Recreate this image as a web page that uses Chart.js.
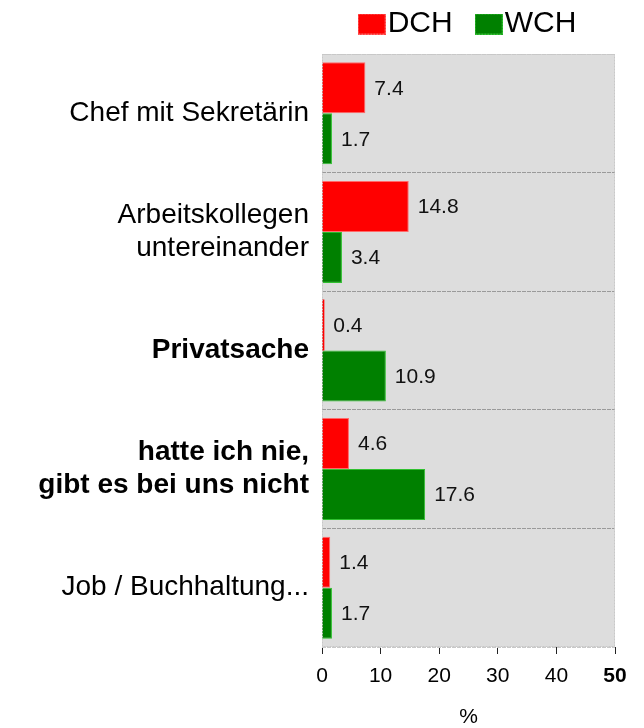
<!DOCTYPE html>
<html>
<head>
<meta charset="utf-8">
<script src="https://cdn.jsdelivr.net/npm/chart.js@4/dist/chart.umd.min.js"></script>
<style>
  html, body { margin: 0; padding: 0; background: #ffffff; }
  #wrap { width: 644px; height: 728px; }
</style>
</head>
<body>
<div id="wrap"><canvas id="c" width="644" height="728"></canvas></div>
<script>
const categories = [
  "Chef mit Sekretärin",
  ["Arbeitskollegen", "untereinander"],
  "Privatsache",
  ["hatte ich nie,", "gibt es bei uns nicht"],
  "Job / Buchhaltung..."
];
const boldCategories = [false, false, true, true, false];
const seriesNames = ["DCH", "WCH"];
const dchValues = [7.4, 14.8, 0.4, 4.6, 1.4];
const wchValues = [1.7, 3.4, 10.9, 17.6, 1.7];
const xTicks = [0, 10, 20, 30, 40, 50];
const xTitle = "%";

const FONT = "'Liberation Sans', Arial, sans-serif";
const fillColors = ['#ff0000', '#008000'];
const edgeColors = ['#ff8080', '#40d040'];

function makeSwatch(fill, edge) {
  const c = document.createElement('canvas');
  c.width = 28; c.height = 21;
  const g = c.getContext('2d');
  g.fillStyle = fill;
  g.fillRect(0, 0, 28, 21);
  g.strokeStyle = edge;
  g.lineWidth = 1;
  g.setLineDash([2, 1]);
  g.strokeRect(0.5, 0.5, 27, 20);
  return c;
}
const swatches = [makeSwatch(fillColors[0], edgeColors[0]), makeSwatch(fillColors[1], edgeColors[1])];

const plotBg = {
  id: 'plotBg',
  beforeDraw(chart) {
    const a = chart.chartArea, ctx = chart.ctx;
    ctx.save();
    ctx.fillStyle = '#dddddd';
    ctx.fillRect(a.left, a.top, a.right - a.left, a.bottom - a.top);
    ctx.restore();
  },
  afterDraw(chart) {
    const a = chart.chartArea, ctx = chart.ctx;
    ctx.save();
    ctx.strokeStyle = '#c8c8c8';
    ctx.lineWidth = 1;
    ctx.setLineDash([2, 1]);
    ctx.strokeRect(a.left + 0.5, a.top + 0.5, a.right - a.left - 1, a.bottom - a.top - 1);
    ctx.restore();
  }
};

const legendCenter = {
  id: 'legendCenter',
  afterLayout(chart) {
    const lg = chart.legend;
    if (lg) {
      lg.left = chart.chartArea.left + 10;
      lg.right = chart.chartArea.right;
    }
  }
};

const valueLabels = {
  id: 'valueLabels',
  afterDatasetsDraw(chart) {
    const ctx = chart.ctx;
    ctx.save();
    ctx.font = '21px ' + FONT;
    ctx.fillStyle = '#111111';
    ctx.textAlign = 'left';
    ctx.textBaseline = 'middle';
    chart.data.datasets.forEach((ds, di) => {
      const meta = chart.getDatasetMeta(di);
      meta.data.forEach((el, i) => {
        ctx.fillText(ds.data[i].toFixed(1), el.x + 9, el.y + 1);
      });
    });
    ctx.restore();
  }
};

const edgeWidth = (ctx) => (ctx.raw !== undefined && ctx.raw < 1) ? 0 : 1;

new Chart(document.getElementById('c'), {
  type: 'bar',
  data: {
    labels: categories,
    datasets: [
      {
        label: seriesNames[0],
        data: dchValues,
        backgroundColor: fillColors[0],
        borderColor: '#ff6a6a',
        borderWidth: edgeWidth,
        borderSkipped: 'start'
      },
      {
        label: seriesNames[1],
        data: wchValues,
        backgroundColor: fillColors[1],
        borderColor: '#30c030',
        borderWidth: edgeWidth,
        borderSkipped: 'start'
      }
    ]
  },
  options: {
    indexAxis: 'y',
    responsive: false,
    animation: false,
    devicePixelRatio: 1,
    layout: { padding: { left: 0, right: 29, top: -26, bottom: 0 } },
    datasets: {
      bar: { categoryPercentage: 0.86, barPercentage: 1.0 }
    },
    plugins: {
      tooltip: { enabled: false },
      legend: {
        position: 'top',
        align: 'center',
        labels: {
          usePointStyle: true,
          pointStyleWidth: 2,
          boxHeight: 21,
          padding: 35,
          color: '#000000',
          font: { family: FONT, size: 30 },
          generateLabels(chart) {
            const items = Chart.defaults.plugins.legend.labels.generateLabels(chart);
            items.forEach(it => { it.pointStyle = swatches[it.datasetIndex]; });
            return items;
          }
        }
      }
    },
    scales: {
      xTop: {
        type: 'linear',
        axis: 'x',
        position: 'top',
        min: 0,
        max: 50,
        afterFit(scale) { scale.height = 5; },
        grid: { display: false, drawTicks: false },
        border: { display: false },
        ticks: { display: false }
      },
      x: {
        type: 'linear',
        position: 'bottom',
        min: 0,
        max: 50,
        afterBuildTicks(scale) {
          scale.ticks = xTicks.map(v => ({ value: v }));
        },
        afterFit(scale) { scale.height = 81; },
        grid: {
          drawOnChartArea: false,
          drawTicks: true,
          tickLength: 7,
          color: '#222222',
          tickColor: '#222222',
          tickWidth: 1
        },
        border: { display: false },
        ticks: {
          color: '#000000',
          padding: 10,
          maxRotation: 0,
          font: (ctx) => ({
            family: FONT,
            size: 21,
            weight: (ctx.tick && ctx.tick.value === 50) ? 'bold' : 'normal'
          })
        },
        title: {
          display: true,
          text: xTitle,
          color: '#000000',
          font: { family: FONT, size: 21 },
          padding: { top: 10, bottom: -2 }
        }
      },
      y: {
        type: 'category',
        offset: true,
        afterFit(scale) { scale.width = 322; },
        grid: {
          offset: true,
          drawOnChartArea: true,
          drawTicks: false,
          color: (ctx) => {
            const i = ctx.index;
            return (i === undefined || i === 0 || i >= categories.length) ? '#c8c8c8' : '#9a9a9a';
          },
          lineWidth: 1
        },
        border: { display: false, dash: [4, 1] },
        ticks: {
          color: '#000000',
          padding: 13,
          autoSkip: false,
          font: (ctx) => ({
            family: FONT,
            size: 28,
            lineHeight: 1.18,
            weight: boldCategories[ctx.index] ? 'bold' : 'normal'
          })
        }
      }
    }
  },
  plugins: [plotBg, legendCenter, valueLabels]
});
</script>
</body>
</html>
